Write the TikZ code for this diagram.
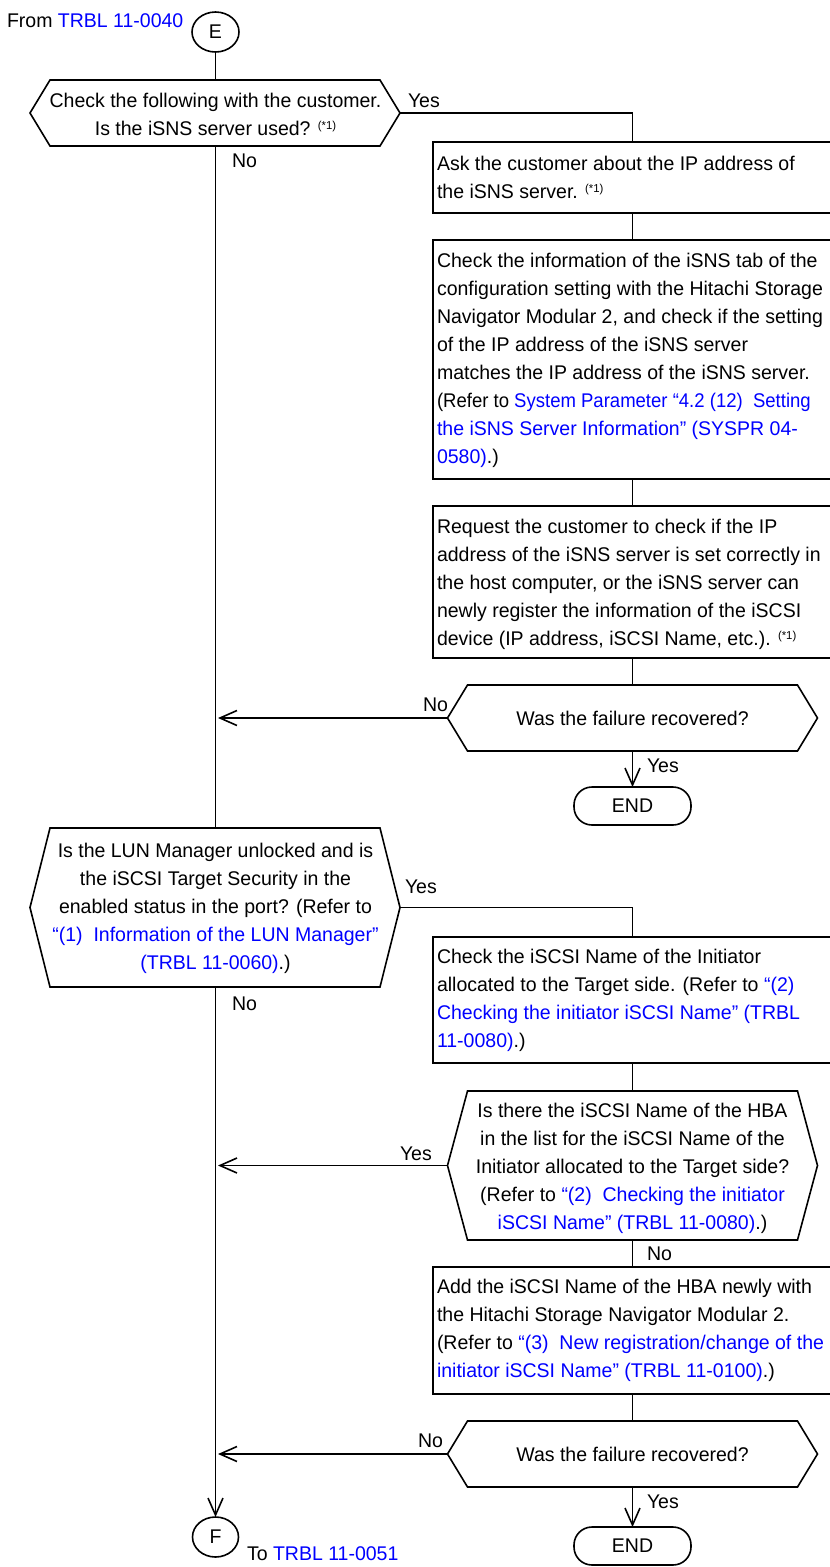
\documentclass[tikz,border=0pt]{standalone}
\usepackage{fontspec}
\setmainfont{Liberation Sans}[FakeStretch=0.985]
\usetikzlibrary{arrows.meta,shapes.geometric}
\definecolor{lnk}{RGB}{0,0,255}
\newcommand\noteone{\raisebox{6pt}{\fontsize{11.5}{12}\selectfont(*1)}}
\newcommand\lk[1]{{\color{lnk}#1}}
\newcommand\ltxt[1]{\parbox[t]{420pt}{\raggedright #1}}
\newcommand\ctxt[1]{\parbox[t]{420pt}{\centering #1}}
\begin{document}
\begin{tikzpicture}[x=1pt,y=-1pt,line width=1.6pt,
  every node/.style={inner sep=0pt,outer sep=0pt,font=\fontsize{19.8}{28}\selectfont},
  rbox/.style={draw,rectangle,anchor=north west,minimum width=399pt},
  circ/.style={draw,ellipse,minimum width=47pt,minimum height=40pt},
  endbox/.style={draw,rectangle,rounded corners=18pt,minimum width=117pt,minimum height=38pt},
  arr/.style={-{Straight Barb[length=17pt,width=15pt,line width=1.6pt]}},
  lbl/.style={anchor=base west}]
\useasboundingbox (0,0) rectangle (830,1567);
\fill[white] (0,0) rectangle (830,1567);
\clip (0,0) rectangle (830,1567);

% start
\node[lbl] (from) at (7,27) {From \lk{TRBL 11-0040}};
\node[circ] (E) at (215.5,32) {E};

% decision 1
\coordinate (d1T) at (215.5,80);
\coordinate (d1B) at (215.5,146);
\coordinate (d1L) at (30,113);
\coordinate (d1R) at (400,113);
\draw (d1L) -- (50,80) -- (380,80) -- (d1R) -- (380,146) -- (50,146) -- cycle;
\node[anchor=base] (t1) at (215.5,107) {\ctxt{Check the following with the customer.\\Is the iSNS server used? \noteone}};
\node[lbl] (y1) at (408,107) {Yes};
\node[lbl] (n1) at (232,167) {No};

% right column boxes
\node[rbox,minimum height=71pt] (b1) at (433,142) {};
\node[anchor=base west] (t2) at (437,170) {\ltxt{Ask the customer about the IP address of\\the iSNS server. \noteone}};

\node[rbox,minimum height=239pt] (b2) at (433,240) {};
\node[anchor=base west] (t3) at (437,267) {\ltxt{Check the information of the iSNS tab of the\\configuration setting with the Hitachi Storage\\Navigator Modular 2, and check if the setting\\of the IP address of the iSNS server\\matches the IP address of the iSNS server.\\\scalebox{0.95}[1]{(Refer to \lk{System Parameter “4.2 (12)\ \ Setting}}\\\lk{the iSNS Server Information” (SYSPR 04-}\\\lk{0580)}.)}};

\node[rbox,minimum height=152pt] (b3) at (433,506) {};
\node[anchor=base west] (t4) at (437,533) {\ltxt{Request the customer to check if the IP\\address of the iSNS server is set correctly in\\the host computer, or the iSNS server can\\newly register the information of the iSCSI\\device (IP address, iSCSI Name, etc.). \noteone}};

% decision 2
\coordinate (d2T) at (632.5,685);
\coordinate (d2B) at (632.5,751);
\coordinate (d2L) at (447.5,718);
\coordinate (d2R) at (817.5,718);
\draw (d2L) -- (467.5,685) -- (797.5,685) -- (d2R) -- (797.5,751) -- (467.5,751) -- cycle;
\node[anchor=base] (t5) at (632.5,725) {Was the failure recovered?};
\node[lbl] (n2) at (423,711) {No};
\node[lbl] (y2) at (647,772) {Yes};
\node[endbox] (end1) at (632.5,806) {END};

% decision 3
\coordinate (d3T) at (215.5,828);
\coordinate (d3B) at (215.5,987);
\coordinate (d3L) at (30,907.5);
\coordinate (d3R) at (400,907.5);
\draw (d3L) -- (50,828) -- (380,828) -- (d3R) -- (380,987) -- (50,987) -- cycle;
\node[anchor=base] (t6) at (215.5,857) {\ctxt{Is the LUN Manager unlocked and is\\the iSCSI Target Security in the\\enabled status in the port? (Refer to\\\lk{“(1)\ \ Information of the LUN Manager”}\\\lk{(TRBL 11-0060)}.)}};
\node[lbl] (y3) at (405,893) {Yes};
\node[lbl] (n3) at (232,1010) {No};

\node[rbox,minimum height=126pt] (b4) at (433,937) {};
\node[anchor=base west] (t7) at (437,963) {\ltxt{Check the iSCSI Name of the Initiator\\allocated to the Target side. (Refer to \lk{“(2)}\\\lk{Checking the initiator iSCSI Name” (TRBL}\\\lk{11-0080)}.)}};

% decision 4
\coordinate (d4T) at (632.5,1091);
\coordinate (d4B) at (632.5,1240);
\coordinate (d4L) at (447.5,1165.5);
\coordinate (d4R) at (817.5,1165.5);
\draw (d4L) -- (467.5,1091) -- (797.5,1091) -- (d4R) -- (797.5,1240) -- (467.5,1240) -- cycle;
\node[anchor=base] (t8) at (632.5,1117) {\ctxt{Is there the iSCSI Name of the HBA\\in the list for the iSCSI Name of the\\Initiator allocated to the Target side?\\(Refer to \lk{“(2)\ \ Checking the initiator}\\\lk{iSCSI Name” (TRBL 11-0080)}.)}};
\node[lbl] (y4) at (400,1160) {Yes};
\node[lbl] (n4) at (647,1260) {No};

\node[rbox,minimum height=127pt] (b5) at (433,1267) {};
\node[anchor=base west] (t9) at (437,1293) {\ltxt{Add the iSCSI Name of the HBA newly with\\the Hitachi Storage Navigator Modular 2.\\(Refer to \lk{“(3)\ \ New registration/change of the}\\\lk{initiator iSCSI Name” (TRBL 11-0100)}.)}};

% decision 5
\coordinate (d5T) at (632.5,1421);
\coordinate (d5B) at (632.5,1487);
\coordinate (d5L) at (447.5,1454);
\coordinate (d5R) at (817.5,1454);
\draw (d5L) -- (467.5,1421) -- (797.5,1421) -- (d5R) -- (797.5,1487) -- (467.5,1487) -- cycle;
\node[anchor=base] (t10) at (632.5,1461) {Was the failure recovered?};
\node[lbl] (n5) at (418,1447) {No};
\node[lbl] (y5) at (647,1508) {Yes};
\node[endbox] (end2) at (632.5,1546) {END};

% end connector
\node[circ,minimum width=46pt] (F) at (215.5,1537) {F};
\node[lbl] (to) at (247,1560) {To \lk{TRBL 11-0051}};

% arrow end points on the main line
\coordinate (m2) at (218,718);
\coordinate (m4) at (218,1165.5);
\coordinate (m5) at (218,1454);

% connectors
\draw (E) -- (d1T);
\draw (d1R) -| (b1.north);
\draw (b1.south) -- (b2.north);
\draw (b2.south) -- (b3.north);
\draw (b3.south) -- (d2T);
\draw[arr] (d2L) -- (m2);
\draw[arr] (d2B) -- (end1.north);
\draw (d1B) -- (d3T);
\draw (d3R) -| (b4.north);
\draw (b4.south) -- (d4T);
\draw[arr] (d4L) -- (m4);
\draw (d4B) -- (b5.north);
\draw (b5.south) -- (d5T);
\draw[arr] (d5L) -- (m5);
\draw[arr] (d5B) -- (end2.north);
\draw[arr] (d3B) -- (F.north);
\end{tikzpicture}
\end{document}
